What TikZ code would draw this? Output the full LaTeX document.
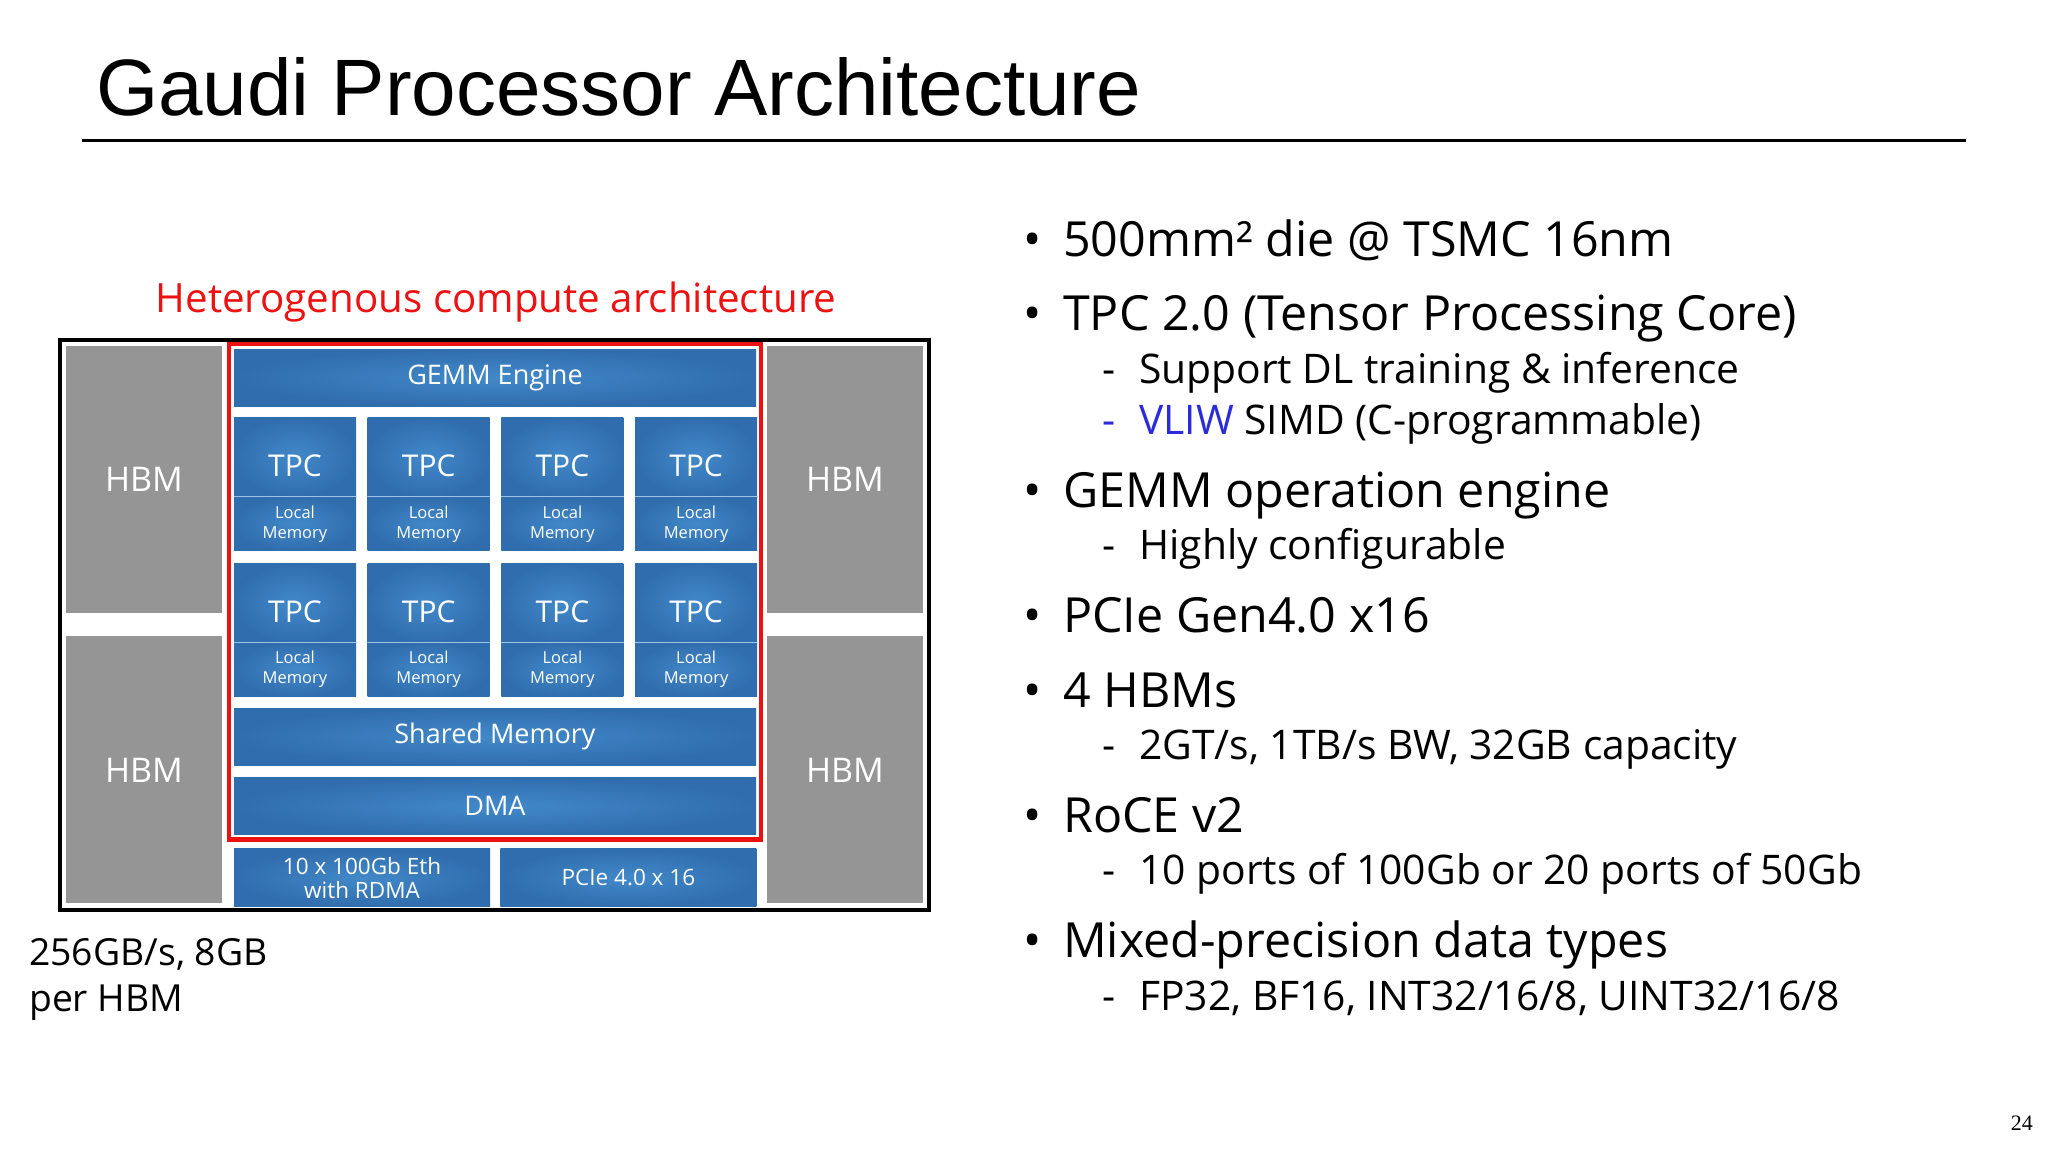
\documentclass[tikz,border=0pt]{standalone}
\usepackage{fontspec}
\setmainfont{Open Sans}
\newfontfamily\titlefont{Liberation Sans}
\newfontfamily\pagefont{Liberation Serif}
\usetikzlibrary{positioning,fit}
\definecolor{hbmgray}{HTML}{959595}
\definecolor{blueIn}{HTML}{4289C9}
\definecolor{blueOut}{HTML}{306DAE}
\definecolor{splitblue}{HTML}{9CC4E8}
\definecolor{vliwblue}{HTML}{2B2BD9}
\definecolor{heteroRed}{HTML}{EE1111}

\begin{document}
\begin{tikzpicture}[x=1pt,y=-1pt,
 hbm/.style={fill=hbmgray,text=white,minimum width=156pt,minimum height=267pt,inner sep=0pt,font=\fontsize{34}{40}\selectfont},
 blk/.style={inner color=blueIn,outer color=blueOut,text=white,inner sep=0pt,align=center},
 wide/.style={blk,minimum width=522pt,minimum height=57pt,font=\fontsize{27}{32}\selectfont},
 tpc/.style={blk,minimum width=122pt,minimum height=79pt,text height=40pt,text depth=0pt,font=\fontsize{30}{36}\selectfont},
 loc/.style={blk,minimum width=122pt,minimum height=54pt,font=\fontsize{16.5}{20}\selectfont},
 io/.style={blk,minimum width=256pt,minimum height=58pt,font=\fontsize{22.5}{24}\selectfont},
 split/.style={splitblue,line width=1.5pt},
 lvl1/.style={anchor=base west,inner sep=0pt,font=\fontsize{48.4}{58}\selectfont},
 lvl2/.style={anchor=base west,inner sep=0pt,font=\fontsize{40.8}{50}\selectfont}]
\fill[white] (0,0) rectangle (2048,1152);
\useasboundingbox (0,0) rectangle (2048,1152);

\node[anchor=base west,inner sep=0pt,font=\titlefont\fontsize{80}{90}\selectfont] (title) at (96,115) {Gaudi Processor Architecture};
\draw[line width=3pt] (82,140) -- (1966,140);

\node[hbm] (hbmTL) at (144,479.5) {HBM};
\node[hbm,below=23pt of hbmTL] (hbmBL) {HBM};
\node[hbm] (hbmTR) at (845,479.5) {HBM};
\node[hbm,below=23pt of hbmTR] (hbmBR) {HBM};
\node[draw,line width=4pt,inner sep=6pt,fit=(hbmTL)(hbmBR)] (chip) {};

\node[wide] (gemm) at (495,377.5) {GEMM Engine};
\node[tpc,below right=11pt and 0pt of gemm.south west] (tpc1) {TPC};
\node[tpc,right=11.3pt of tpc1] (tpc2) {TPC};
\node[tpc,right=11.3pt of tpc2] (tpc3) {TPC};
\node[tpc,right=11.3pt of tpc3] (tpc4) {TPC};
\node[loc,below=0pt of tpc1] (loc1) {Local\\Memory};
\node[loc,below=0pt of tpc2] (loc2) {Local\\Memory};
\node[loc,below=0pt of tpc3] (loc3) {Local\\Memory};
\node[loc,below=0pt of tpc4] (loc4) {Local\\Memory};
\node[tpc,below=12pt of loc1] (tpc5) {TPC};
\node[tpc,below=12pt of loc2] (tpc6) {TPC};
\node[tpc,below=12pt of loc3] (tpc7) {TPC};
\node[tpc,below=12pt of loc4] (tpc8) {TPC};
\node[loc,below=0pt of tpc5] (loc5) {Local\\Memory};
\node[loc,below=0pt of tpc6] (loc6) {Local\\Memory};
\node[loc,below=0pt of tpc7] (loc7) {Local\\Memory};
\node[loc,below=0pt of tpc8] (loc8) {Local\\Memory};
\draw[split] (loc1.north west) -- (loc1.north east);
\draw[split] (loc2.north west) -- (loc2.north east);
\draw[split] (loc3.north west) -- (loc3.north east);
\draw[split] (loc4.north west) -- (loc4.north east);
\draw[split] (loc5.north west) -- (loc5.north east);
\draw[split] (loc6.north west) -- (loc6.north east);
\draw[split] (loc7.north west) -- (loc7.north east);
\draw[split] (loc8.north west) -- (loc8.north east);
\node[wide,below right=11pt and 0pt of loc5.south west] (shared) {Shared Memory};
\node[wide,below=12pt of shared] (dma) {DMA};
\node[draw=heteroRed,line width=4.5pt,inner sep=5pt,fit=(gemm)(dma)] (hetero) {};
\node[io,below right=14pt and 0pt of dma.south west] (eth) {10 x 100Gb Eth\\with RDMA};
\node[io,right=10pt of eth] (pcie) {PCIe 4.0 x 16};

\node[anchor=base,inner sep=0pt,text=heteroRed,font=\fontsize{40.3}{48}\selectfont] (caption) at (496,312) {Heterogenous compute architecture};
\node[anchor=base west,inner sep=0pt,font=\fontsize{37.3}{46}\selectfont] (hbmnote) at (29,965) {256GB/s, 8GB};
\node[anchor=base west,inner sep=0pt,font=\fontsize{37.3}{46}\selectfont] (hbmnote2) at (29,1011) {per HBM};

\node[lvl1] (die) at (1063,256) {\llap{\makebox[40pt][l]{•}}500mm² die @ TSMC 16nm};
\node[lvl1] (tpcitem) at (1063,330) {\llap{\makebox[40pt][l]{•}}TPC 2.0 (Tensor Processing Core)};
\node[lvl2] (dl) at (1139,383) {\llap{\makebox[37pt][l]{-}}Support DL training \& inference};
\node[lvl2] (vliw) at (1139,434) {\llap{\makebox[37pt][l]{\color{vliwblue}-}}{\color{vliwblue}VLIW} SIMD (C-programmable)};
\node[lvl1] (gemmitem) at (1063,507) {\llap{\makebox[40pt][l]{•}}GEMM operation engine};
\node[lvl2] (config) at (1139,559) {\llap{\makebox[37pt][l]{-}}Highly configurable};
\node[lvl1] (pcieitem) at (1063,632) {\llap{\makebox[40pt][l]{•}}PCIe Gen4.0 x16};
\node[lvl1] (hbmitem) at (1063,707) {\llap{\makebox[40pt][l]{•}}4 HBMs};
\node[lvl2] (bw) at (1139,759) {\llap{\makebox[37pt][l]{-}}2GT/s, 1TB/s BW, 32GB capacity};
\node[lvl1] (roce) at (1063,832) {\llap{\makebox[40pt][l]{•}}RoCE v2};
\node[lvl2] (ports) at (1139,884) {\llap{\makebox[37pt][l]{-}}10 ports of 100Gb or 20 ports of 50Gb};
\node[lvl1] (mixed) at (1063,957) {\llap{\makebox[40pt][l]{•}}Mixed-precision data types};
\node[lvl2] (types) at (1139,1010) {\llap{\makebox[37pt][l]{-}}FP32, BF16, INT32/16/8, UINT32/16/8};

\node[anchor=base east,inner sep=0pt,font=\pagefont\fontsize{22}{26}\selectfont] (pagenum) at (2033,1130) {24};
\end{tikzpicture}
\end{document}
